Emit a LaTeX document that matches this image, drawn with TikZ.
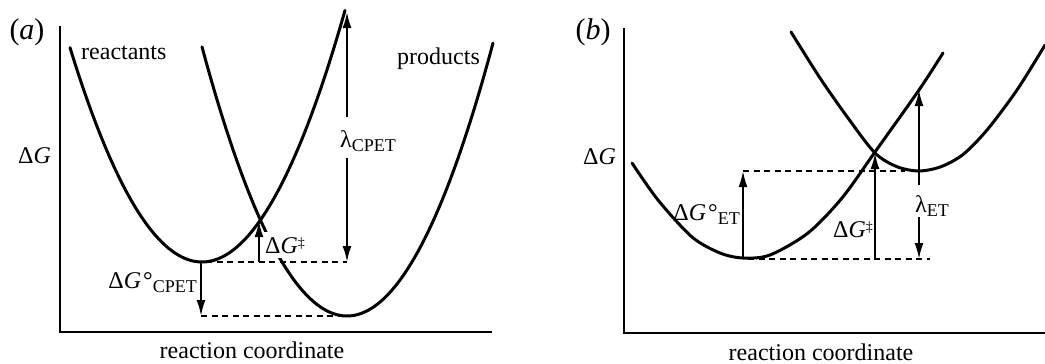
\documentclass[tikz,border=0pt]{standalone}
\usepackage{fontspec}
\setmainfont{Liberation Serif}
\usetikzlibrary{arrows.meta}
\newcommand\lowsub[1]{\raisebox{-4.5pt}{\fontsize{18}{20}\selectfont #1}}
\newcommand\dagsup{\raisebox{6pt}{\fontsize{14}{16}\selectfont ‡}}
\newcommand\dGtxt{Δ\textit{G}}
\begin{document}
\begin{tikzpicture}[x=1pt,y=-1pt,
  every node/.style={font=\fontsize{24}{28}\selectfont, inner sep=0pt},
  curve/.style={line width=3pt, line cap=round},
  axisline/.style={line width=2.8pt},
  guide/.style={line width=2pt, dash pattern=on 6pt off 4.5pt},
  arr/.style={line width=2pt, -{Latex[length=16pt,width=9pt]}},
  darr/.style={line width=2pt, {Latex[length=16pt,width=9pt]}-{Latex[length=16pt,width=9pt]}},
  whitelbl/.style={fill=white, inner xsep=1pt, inner ysep=0pt}]
\useasboundingbox (0,0) rectangle (1045,364);

% ---------- panel (a) ----------
\coordinate (atop) at (60,26);
\coordinate (aorig) at (60,332);
\coordinate (aright) at (492,332);
\draw[axisline] (atop) -- (aorig) -- (aright);

\draw[curve] plot[domain=70:345,samples=90] (\x,{262-(0.11091*(\x-202))^2});
\draw[curve] plot[domain=202:493,samples=90] (\x,{316-(0.11314*(\x-347))^2});

\coordinate (rminA) at (201,262);
\coordinate (dashA) at (206,262);
\coordinate (lowA) at (201,316);
\coordinate (pminA) at (343,316);
\coordinate (xA) at (259,221);
\coordinate (gA) at (259,262);
\coordinate (lamTop) at (347,12);
\coordinate (lamBot) at (347,262);

\draw[guide] (dashA) -- (lamBot);
\draw[guide] (lowA) -- (pminA);
\draw[arr] (rminA) -- (lowA);
\draw[arr] (gA) -- (xA);
\draw[darr] (lamBot) -- (lamTop);

\node (la) at (27,32) {\fontsize{30}{33}\selectfont (\textit{a})};
\node[anchor=base west] (react) at (81,59) {reactants};
\node[anchor=base west] (prod) at (397,64) {products};
\node[anchor=base west] (dGa) at (18,163) {\dGtxt};
\node[anchor=base] (rcA) at (252,358) {reaction coordinate};
\node[anchor=base east] (dGoA) at (197,288) {\dGtxt\kern2pt°\lowsub{CPET}};
\node[anchor=base west, whitelbl, text height=21pt, text depth=5pt] (dGdA) at (264,253) {\dGtxt\dagsup};
\node[anchor=base west, whitelbl, text height=30pt, text depth=11pt] (lamA) at (339,147) {λ\lowsub{CPET}};

% ---------- panel (b) ----------
\coordinate (btop) at (624,28);
\coordinate (borig) at (624,333);
\coordinate (bright) at (1045,333);
\draw[axisline] (btop) -- (borig) -- (bright);

\draw[curve] plot[smooth] coordinates {(632,163) (658,200) (692,237) (720,253) (743,258) (770,255) (808,233) (842,198) (875,152) (919,90) (943,53)};
\draw[curve] plot[smooth] coordinates {(791,32) (820,78) (848,118) (875,153) (897,166.7) (919,171) (941,166.7) (963,154.5) (987,130) (1017,90) (1045,45)};

\coordinate (rminB) at (743,259);
\coordinate (dashB) at (748,259);
\coordinate (uB) at (743,171);
\coordinate (uBend) at (905,171);
\coordinate (lowBend) at (930,259);
\coordinate (xB) at (875,153);
\coordinate (gB) at (875,259);
\coordinate (lamBtop) at (919,90);
\coordinate (lamBbot) at (919,259);

\draw[guide] (dashB) -- (lowBend);
\draw[guide] (uB) -- (uBend);
\draw[arr] (rminB) -- (uB);
\draw[arr] (gB) -- (xB);
\draw[darr] (lamBbot) -- (lamBtop);

\node (lb) at (593,32) {\fontsize{30}{33}\selectfont (\textit{b})};
\node[anchor=base west] (dGb) at (583,164) {\dGtxt};
\node[anchor=base] (rcB) at (821,360) {reaction coordinate};
\node[anchor=base east] (dGoB) at (740,220) {\dGtxt\kern2pt°\lowsub{ET}};
\node[anchor=base west] (dGdB) at (833,237) {\dGtxt\dagsup};
\node[anchor=base west, whitelbl, text height=27pt, text depth=5pt] (lamB) at (914,212) {λ\lowsub{ET}};
\end{tikzpicture}
\end{document}
